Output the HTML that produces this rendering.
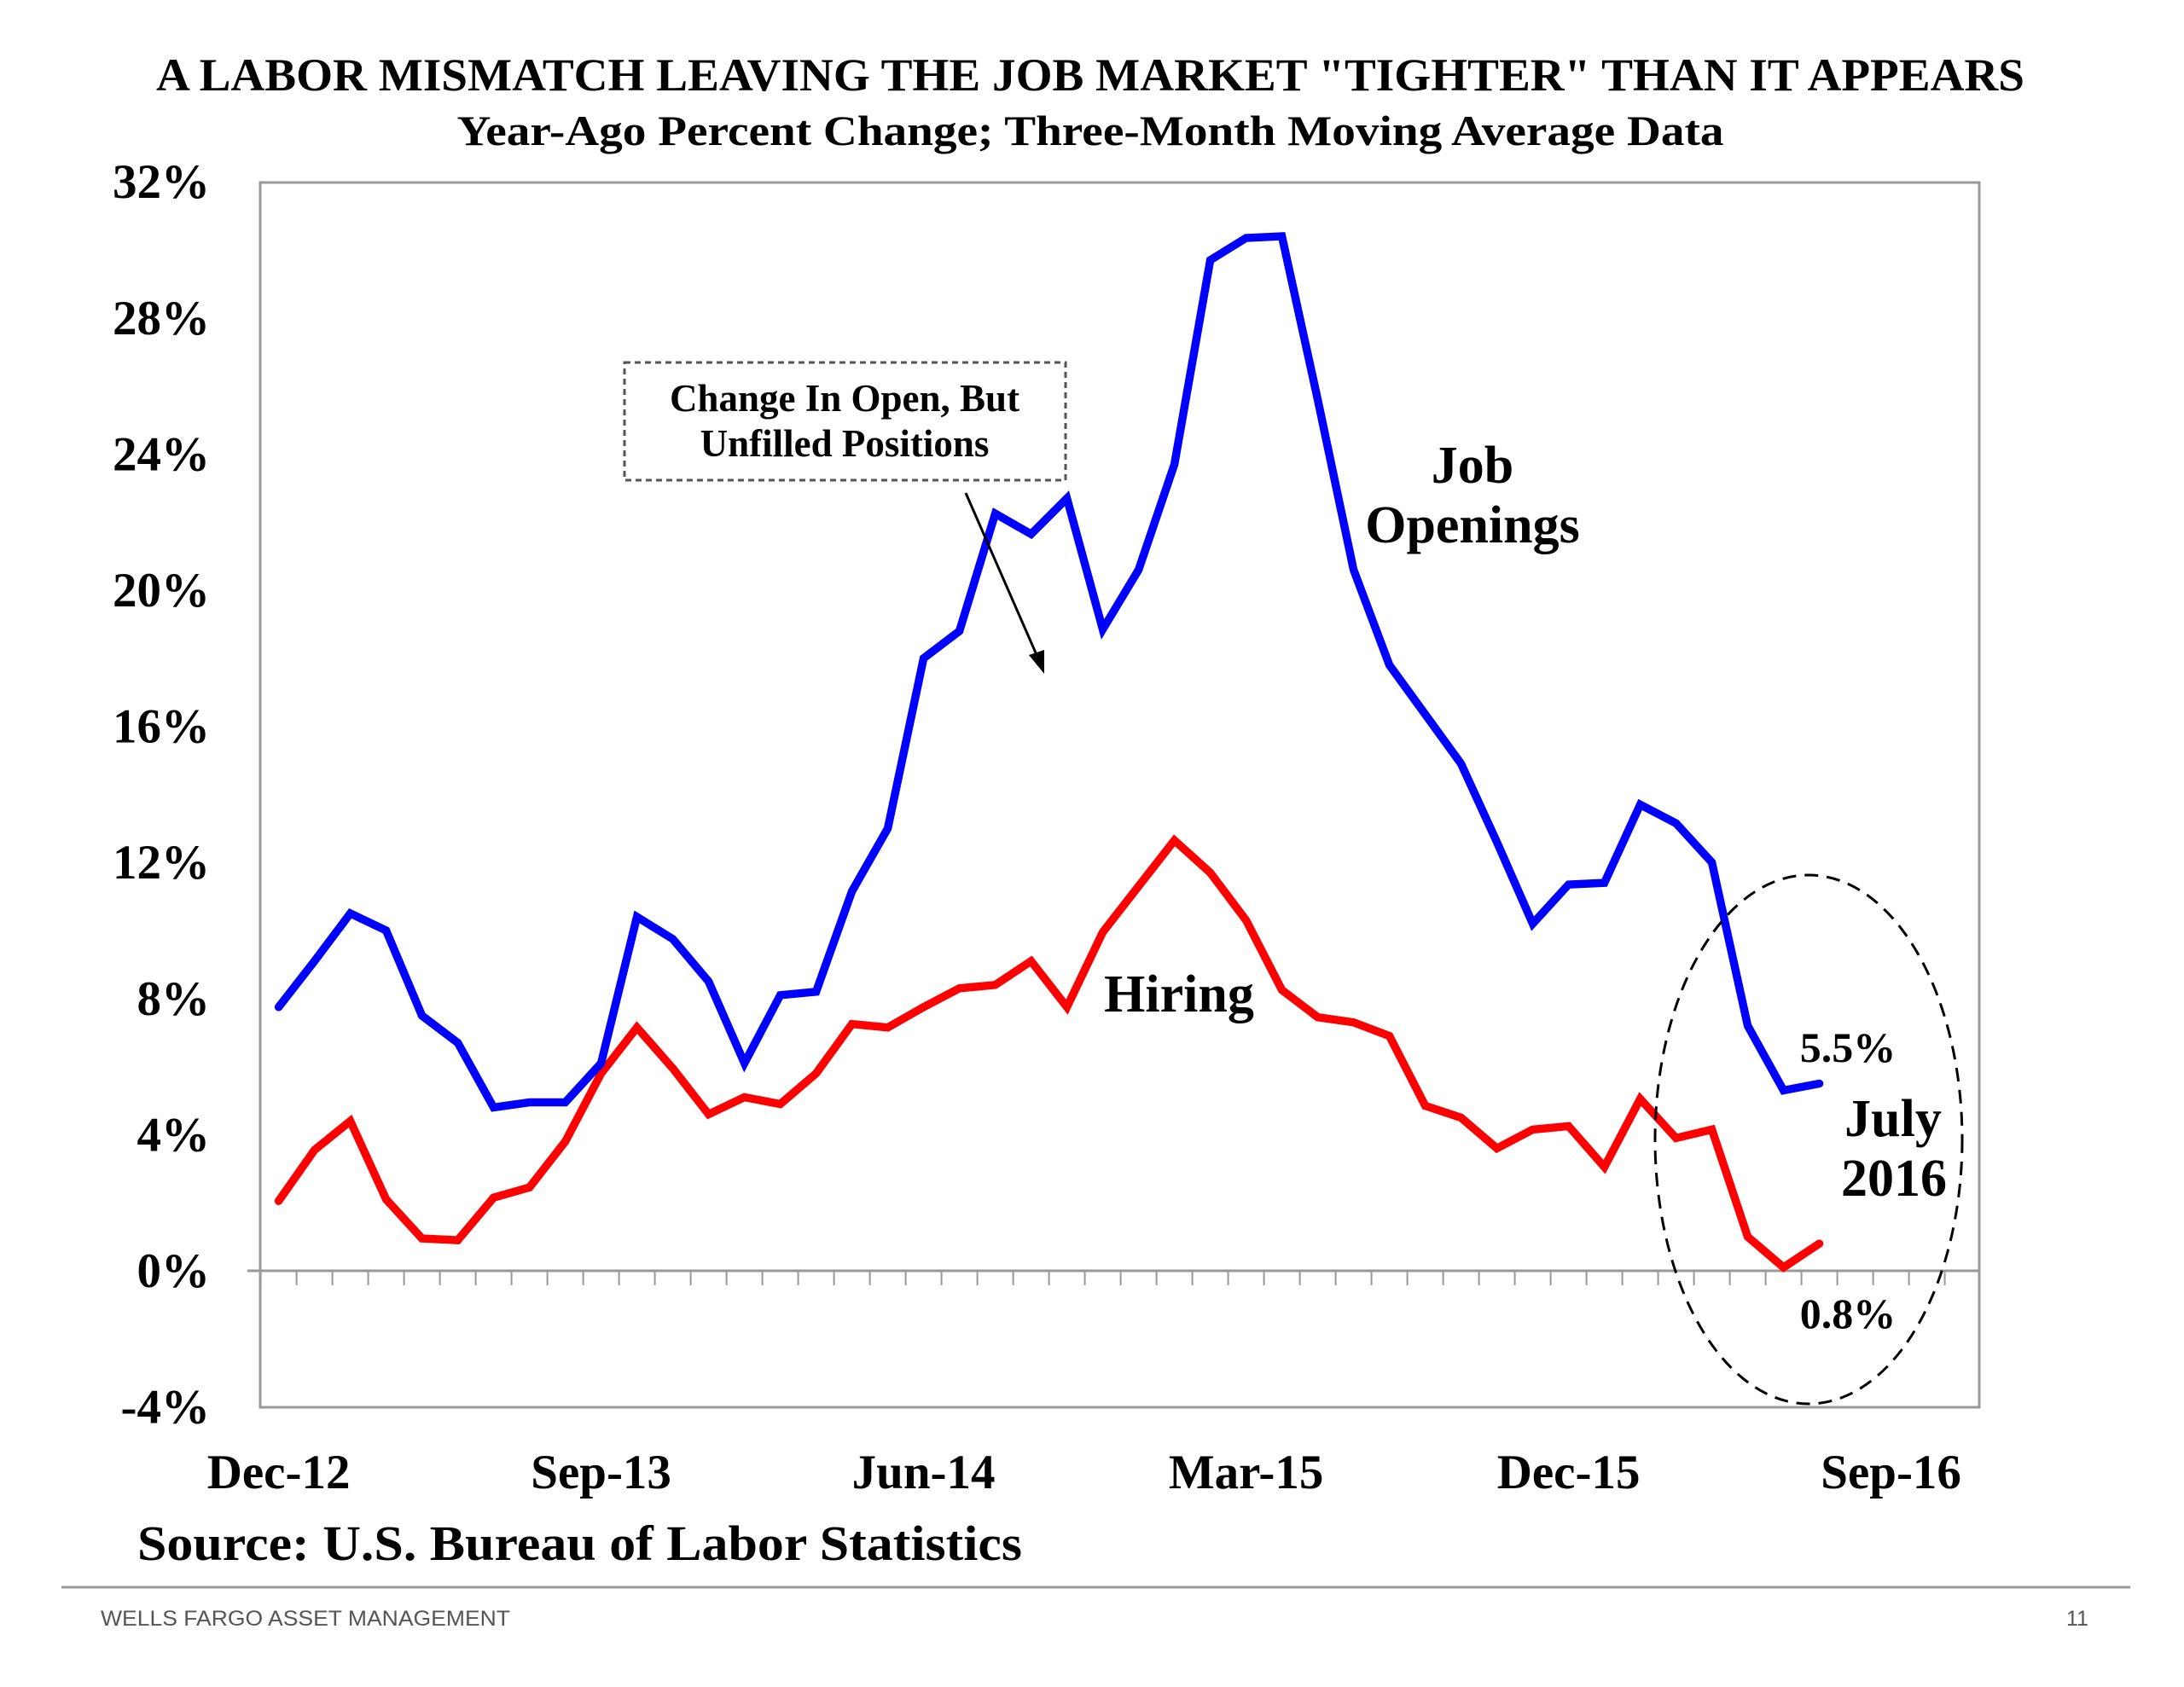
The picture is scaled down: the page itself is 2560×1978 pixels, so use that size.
<!DOCTYPE html>
<html><head><meta charset="utf-8"><style>
html,body{margin:0;padding:0;background:#fff;}
svg{display:block;}
text{font-family:"Liberation Serif",serif;font-weight:bold;fill:#000;}
</style></head><body>
<svg id="chart" width="2560" height="1978" viewBox="0 0 2560 1978" xmlns="http://www.w3.org/2000/svg">
<text x="1278" y="106" text-anchor="middle" font-size="54" textLength="2190" lengthAdjust="spacingAndGlyphs">A LABOR MISMATCH LEAVING THE JOB MARKET "TIGHTER" THAN IT APPEARS</text>
<text x="1278" y="170" text-anchor="middle" font-size="50" textLength="1485" lengthAdjust="spacingAndGlyphs">Year-Ago Percent Change; Three-Month Moving Average Data</text>
<rect x="305" y="214" width="2015" height="1436" fill="none" stroke="#999" stroke-width="3"/>
<g id="yticks"></g>
<g id="xaxis"></g>
<g id="series"></g>
<rect x="732" y="425" width="517" height="138" fill="none" stroke="#555" stroke-width="3" stroke-dasharray="7,5"/>
<text x="990" y="482" text-anchor="middle" font-size="45">Change In Open, But</text>
<text x="990" y="535" text-anchor="middle" font-size="45">Unfilled Positions</text>
<line x1="1132" y1="578" x2="1216" y2="770" stroke="#000" stroke-width="3"/>
<polygon points="1224,790 1206,768 1224,762" fill="#000"/>
<text x="1726" y="566" text-anchor="middle" font-size="62">Job</text>
<text x="1726" y="636" text-anchor="middle" font-size="62">Openings</text>
<text x="1382" y="1186" text-anchor="middle" font-size="62">Hiring</text>
<text x="2166" y="1245" text-anchor="middle" font-size="50">5.5%</text>
<text x="2219" y="1332" text-anchor="middle" font-size="62">July</text>
<text x="2220" y="1402" text-anchor="middle" font-size="62">2016</text>
<text x="2166" y="1557" text-anchor="middle" font-size="50">0.8%</text>
<ellipse cx="2120" cy="1336" rx="180" ry="310" fill="none" stroke="#000" stroke-width="3" stroke-dasharray="16,10"/>
<text x="161" y="1829" font-size="58" textLength="1037" lengthAdjust="spacingAndGlyphs">Source: U.S. Bureau of Labor Statistics</text>
<line x1="72" y1="1861" x2="2497" y2="1861" stroke="#999" stroke-width="3"/>
<text x="118" y="1906" font-size="25" textLength="480" lengthAdjust="spacingAndGlyphs" style="font-family:'Liberation Sans',sans-serif;font-weight:normal;fill:#555">WELLS FARGO ASSET MANAGEMENT</text>
<text x="2448" y="1906" text-anchor="end" font-size="25" style="font-family:'Liberation Sans',sans-serif;font-weight:normal;fill:#555">11</text>
</svg>
<script>
const jobOpenings = [7.75,9.1,10.5,10.0,7.5,6.7,4.8,4.95,4.95,6.1,10.4,9.75,8.5,6.1,8.1,8.2,11.15,13.0,18.0,18.8,22.25,21.65,22.7,18.85,20.6,23.7,29.7,30.35,30.4,25.6,20.6,17.8,16.35,14.9,12.6,10.2,11.35,11.4,13.7,13.15,12.0,7.2,5.3,5.5];
const hiring = [2.05,3.55,4.4,2.1,0.95,0.9,2.15,2.45,3.8,5.8,7.15,5.95,4.6,5.1,4.9,5.8,7.25,7.15,7.75,8.3,8.4,9.1,7.75,9.95,11.3,12.65,11.7,10.3,8.25,7.45,7.3,6.9,4.85,4.5,3.6,4.15,4.25,3.05,5.05,3.9,4.15,1.0,0.1,0.8];
const yTicks = [32,28,24,20,16,12,8,4,0,-4];
const xLabels = ["Dec-12","Sep-13","Jun-14","Mar-15","Dec-15","Sep-16"];
const xLabelIdx = [0,9,18,27,36,45];

const NS = "http://www.w3.org/2000/svg";
const X0 = 326.6, DX = 42.0;
const Y0 = 1490, PER = 39.9;
const xs = i => X0 + DX * i;
const ys = v => Y0 - PER * v;
function mk(tag, attrs, parent, txt){const e=document.createElementNS(NS,tag);for(const k in attrs)e.setAttribute(k,attrs[k]);if(txt!==undefined)e.textContent=txt;parent.appendChild(e);return e;}

const yg = document.getElementById('yticks');
yTicks.forEach(v=>{
  const t = mk('text',{x:246,y:ys(v)+19,'text-anchor':'end','font-size':57},yg,v+'%');
  
  
});
const xg = document.getElementById('xaxis');
const zl = mk('line',{x1:290,x2:2320,y1:ys(0),y2:ys(0),stroke:'#999','stroke-width':3},xg);


for(let i=-0.5;xs(i)<2320;i+=1){
  if(xs(i)<305) continue;
  const tk = mk('line',{x1:xs(i),x2:xs(i),y1:ys(0),y2:ys(0)+17,stroke:'#999','stroke-width':2},xg);
  
  
}
xLabels.forEach((l,k)=>{
  const t = mk('text',{x:xs(xLabelIdx[k]),y:1745,'text-anchor':'middle','font-size':57},xg,l);
  
  
});
const sg = document.getElementById('series');
function line(vals,color,name){
  const d = vals.map((v,i)=>(i?'L':'M')+xs(i).toFixed(1)+','+ys(v).toFixed(1)).join(' ');
  const p = mk('path',{d:d,fill:'none',stroke:color,'stroke-width':9.5,'stroke-linejoin':'miter','stroke-linecap':'round'},sg);
  
  
}
line(hiring,'#ff0000','hiring-line');
line(jobOpenings,'#0000ff','job-openings-line');
</script>
</body></html>
